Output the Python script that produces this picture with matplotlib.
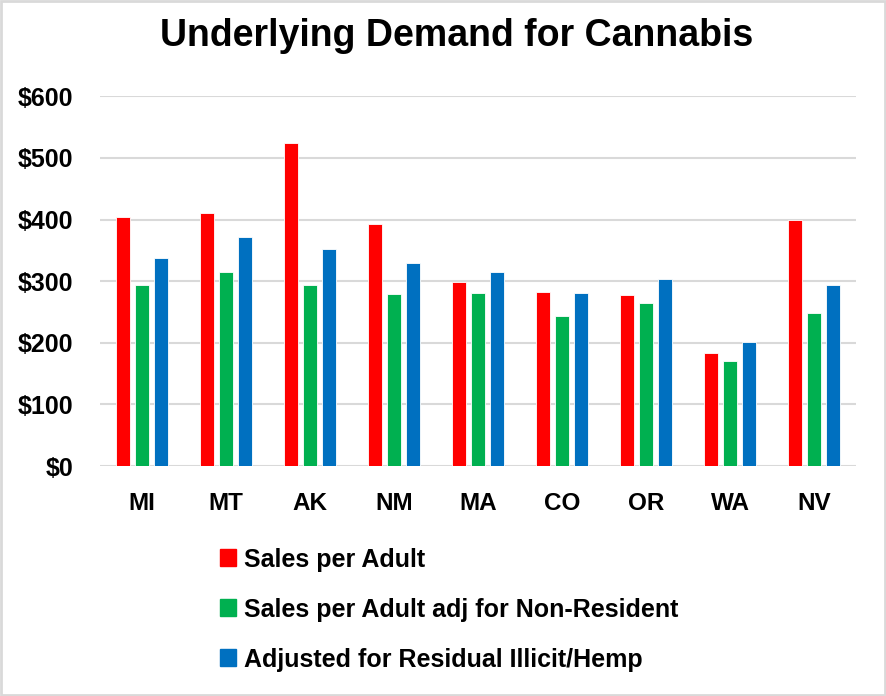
import matplotlib
matplotlib.use("Agg")
import matplotlib.pyplot as plt
from matplotlib.patches import Rectangle
import numpy as np

states = ["MI", "MT", "AK", "NM", "MA", "CO", "OR", "WA", "NV"]
sales_per_adult = [404, 411, 524, 392, 299, 283, 277, 183, 400]
sales_adj_nonres = [294, 315, 294, 279, 281, 243, 264, 171, 249]
adj_illicit_hemp = [338, 371, 352, 330, 315, 281, 304, 202, 294]
series_names = ["Sales per Adult", "Sales per Adult adj for Non-Resident",
                "Adjusted for Residual Illicit/Hemp"]
colors = ["#FF0000", "#00B050", "#0070C0"]
yticks = [0, 100, 200, 300, 400, 500, 600]
title = "Underlying Demand for Cannabis"

fig = plt.figure(figsize=(8.86, 6.96), dpi=100)
ax = fig.add_axes([100/886, 1-466/696, 756/886, (466-96.3)/696])

x = np.arange(len(states))
w = 0.167
step = 0.226
for i, (vals, c, name) in enumerate(zip([sales_per_adult, sales_adj_nonres, adj_illicit_hemp], colors, series_names)):
    ax.bar(x + (i-1)*step, vals, width=w, color=c, edgecolor="white",
           linewidth=0.6, label=name, zorder=3)

ax.set_xlim(-0.5, len(states)-0.5)
ax.set_ylim(0, 600)
ax.set_yticks(yticks)
ax.set_yticklabels([f"${v}" for v in yticks])
ax.set_xticks(x)
ax.set_xticklabels(states)
ax.grid(axis="y", color="#d9d9d9", linewidth=1.5, zorder=0)
for s in ax.spines.values():
    s.set_visible(False)
ax.tick_params(axis="both", length=0)
ax.tick_params(axis="y", pad=19)
ax.tick_params(axis="x", pad=19)
for lab in ax.get_yticklabels():
    lab.set_fontfamily("Liberation Sans")
    lab.set_fontweight("bold")
    lab.set_fontsize(18)
for lab in ax.get_xticklabels():
    lab.set_fontfamily("Liberation Sans")
    lab.set_fontweight("bold")
    lab.set_fontsize(17.5)

fig.text(457/886, 1-36/696, title, ha="center", va="center",
         fontsize=27, fontweight="bold", family=["Liberation Sans Narrow", "Liberation Sans"])

handles = [Rectangle((0, 0), 1, 1, color=c) for c in colors]
leg = fig.legend(handles, series_names, loc="upper left",
                 bbox_to_anchor=(197/886, 1-525/696), frameon=False,
                 handlelength=0.64, handleheight=0.64, handletextpad=0.32,
                 labelspacing=1.04, prop={"family": "Liberation Sans", "weight": "bold", "size": 18})

fig.patches.append(Rectangle((0.001, 0.001), 0.998, 0.998, transform=fig.transFigure,
                             fill=False, edgecolor="#d9d9d9", linewidth=2))

fig.savefig("out.png", dpi=100)
